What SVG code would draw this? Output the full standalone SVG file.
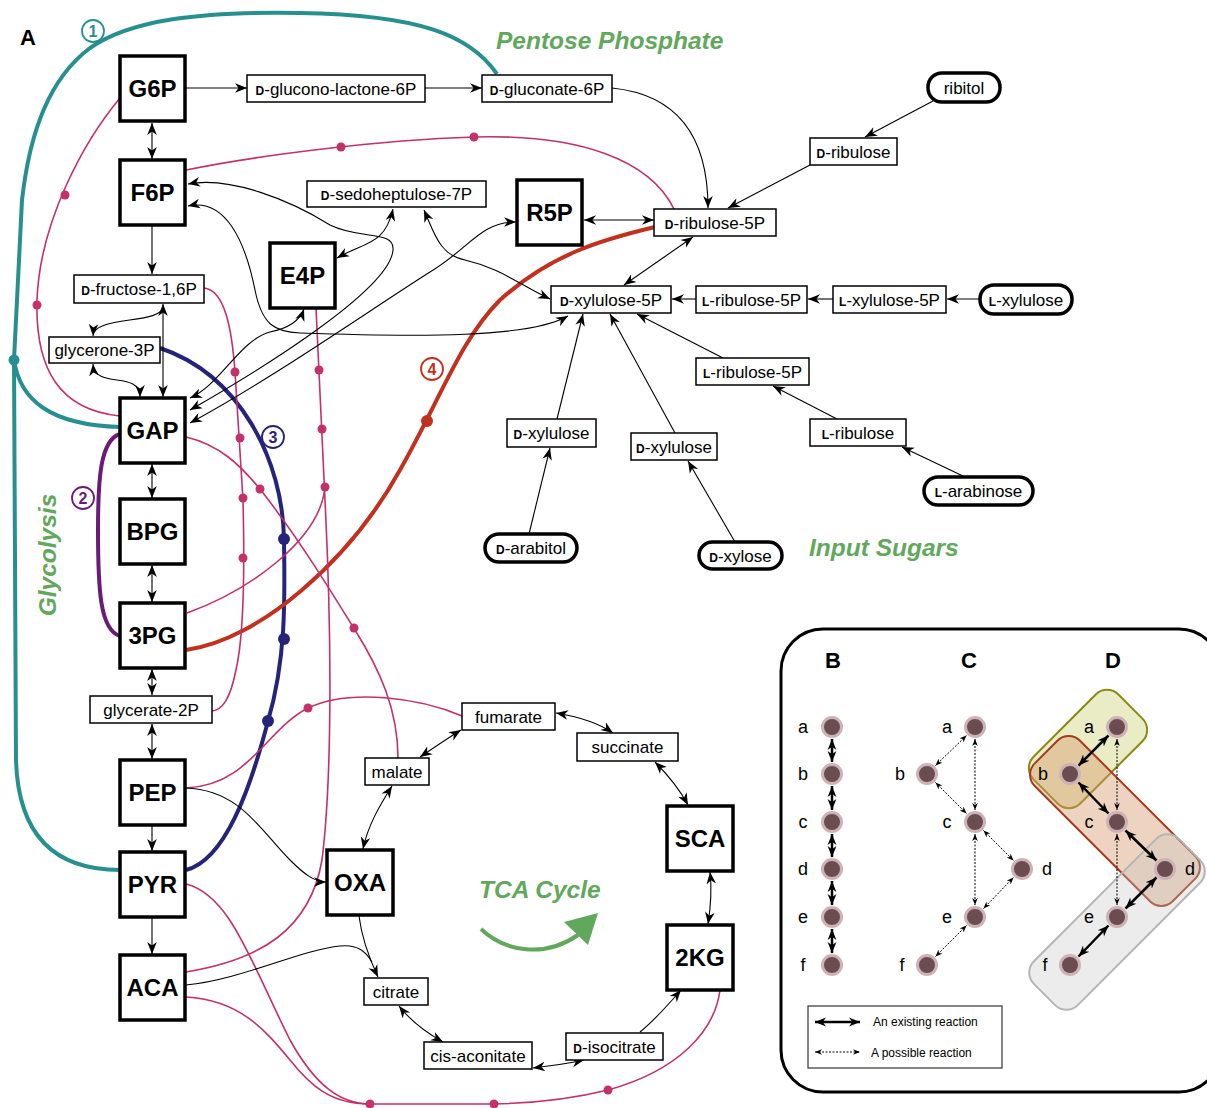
<svg xmlns="http://www.w3.org/2000/svg" width="1207" height="1108" viewBox="0 0 1207 1108">
<style>
text{font-family:"Liberation Sans",Arial,sans-serif;fill:#000}
.big rect{fill:#fff;stroke:#000;stroke-width:3.5}
.big text{font-size:24px;font-weight:bold;text-anchor:middle}
.sm rect{fill:#fff;stroke:#000;stroke-width:1.5}
.src rect{fill:#fff;stroke:#000;stroke-width:3.5}
.sm text,.src text{font-size:17px;text-anchor:middle}
.p{font-size:12px;font-weight:bold}
.ln{fill:none;stroke:#000;stroke-width:1.1}
.mg{fill:none;stroke:#c4306a;stroke-width:1.6}
.dot{fill:#c4306a}
.title{font-size:24.5px;font-weight:bold;font-style:italic;fill:#62a85c}
.lab{font-size:18px;text-anchor:middle}
.pn circle{fill:#6b4c50;stroke:#cdb3b6;stroke-width:3}
.thick{fill:none;stroke:#000;stroke-width:2.5}
.dotl{fill:none;stroke:#000;stroke-width:1;stroke-dasharray:2 1.5}
</style>
<defs>
<marker id="ah" viewBox="0 0 10 10" refX="10" refY="5" markerWidth="12" markerHeight="12" markerUnits="userSpaceOnUse" orient="auto-start-reverse"><path d="M0,1 L10,5 L0,9 L3,5 z" fill="#000"/></marker>
<marker id="ahb" viewBox="0 0 10 10" refX="10" refY="5" markerWidth="11" markerHeight="11" markerUnits="userSpaceOnUse" orient="auto-start-reverse"><path d="M0,1 L10,5 L0,9 L3,5 z" fill="#000"/></marker>
<marker id="ahs" viewBox="0 0 10 10" refX="10" refY="5" markerWidth="7" markerHeight="7" markerUnits="userSpaceOnUse" orient="auto-start-reverse"><path d="M0,1 L10,5 L0,9 L3,5 z" fill="#000"/></marker>
</defs>

<!-- labels -->
<text x="20" y="45" font-size="22" font-weight="bold">A</text>
<text class="title" x="496" y="49">Pentose Phosphate</text>
<text class="title" x="809" y="556">Input Sugars</text>
<text class="title" x="479" y="898">TCA Cycle</text>
<text class="title" transform="translate(56,555) rotate(-90)" text-anchor="middle">Glycolysis</text>
<path d="M 481,929 C 505,952 545,958 578,935" fill="none" stroke="#62a85c" stroke-width="4"/>
<polygon points="564,922 598,913 588,945" fill="#62a85c"/>

<!-- thick pathway curves -->
<g id="pathways">
<path d="M 497,74 C 470,35 420,15 300,13 C 200,11 130,20 90,48 C 50,78 30,130 22,200 L 14,360 L 16,760 C 18,830 50,870 120,870" fill="none" stroke="#27908f" stroke-width="4"/>
<path d="M 14,360 C 20,400 50,425 120,427" fill="none" stroke="#27908f" stroke-width="4"/>
<circle cx="14" cy="360" r="5.5" fill="#27908f"/>
<path d="M 120,434 C 100,440 98,480 98,530 C 98,590 100,630 120,636" fill="none" stroke="#6a1b78" stroke-width="4"/>
<path d="M 160,348 C 240,375 283,460 284,540 C 285,600 286,660 268,721 C 250,790 225,860 186,870" fill="none" stroke="#25237a" stroke-width="4"/>
<circle cx="284" cy="539" r="6" fill="#25237a"/>
<circle cx="284" cy="639" r="6" fill="#25237a"/>
<circle cx="268" cy="721" r="6" fill="#25237a"/>
<path d="M 186,650 C 260,640 350,560 400,470 C 440,400 460,340 500,300 C 550,255 600,240 655,227" fill="none" stroke="#c1311e" stroke-width="4"/>
<circle cx="427" cy="421" r="6" fill="#c1311e"/>
</g>

<!-- circled numbers -->
<g font-size="16" font-weight="bold" text-anchor="middle">
<circle cx="93" cy="31" r="11" fill="#fff" stroke="#27908f" stroke-width="1.8"/><text x="93" y="37" style="fill:#27908f">1</text>
<circle cx="83" cy="498" r="11" fill="#fff" stroke="#6a1b78" stroke-width="1.8"/><text x="83" y="504" style="fill:#6a1b78">2</text>
<circle cx="273" cy="437" r="11" fill="#fff" stroke="#25237a" stroke-width="1.8"/><text x="273" y="443" style="fill:#25237a">3</text>
<circle cx="432" cy="369" r="11" fill="#fff" stroke="#c1311e" stroke-width="1.8"/><text x="432" y="375" style="fill:#c1311e">4</text>
</g>

<!-- magenta lines -->
<g id="regulation">
<path class="mg" d="M 120,98 C 85,140 40,220 37,300 C 35,370 60,410 120,416"/>
<circle class="dot" cx="65" cy="195" r="4.5"/><circle class="dot" cx="37" cy="305" r="4.5"/>
<path class="mg" d="M 186,170 C 260,155 380,140 474,137 C 580,134 650,160 674,209"/>
<circle class="dot" cx="341" cy="147" r="4.5"/><circle class="dot" cx="474" cy="137" r="4.5"/>
<path class="mg" d="M 204,288 C 225,290 232,330 235,372 L 243,500 C 245,580 243,640 236,670 C 230,700 222,710 212,711"/>
<circle class="dot" cx="235" cy="372" r="4.5"/><circle class="dot" cx="240" cy="438" r="4.5"/><circle class="dot" cx="243" cy="498" r="4.5"/><circle class="dot" cx="243" cy="558" r="4.5"/>
<path class="mg" d="M 316,308 L 325,500 C 332,640 332,780 322,860 C 310,930 260,960 186,972"/>
<circle class="dot" cx="319" cy="370" r="4.5"/><circle class="dot" cx="322" cy="429" r="4.5"/><circle class="dot" cx="325" cy="487" r="4.5"/>
<path class="mg" d="M 187,613 C 250,590 320,540 325,487"/>
<path class="mg" d="M 186,437 C 220,445 240,465 260,489 C 300,540 330,590 355,630 C 380,670 398,710 398,758"/>
<circle class="dot" cx="260" cy="489" r="4.5"/><circle class="dot" cx="354" cy="628" r="4.5"/>
<path class="mg" d="M 186,788 C 250,785 265,730 308,708 C 350,688 420,698 462,716"/>
<circle class="dot" cx="308" cy="708" r="4.5"/>
<path class="mg" d="M 186,884 C 230,895 250,960 290,1040 C 315,1085 340,1104 370,1104 L 494,1104 C 540,1103 580,1097 608,1090 C 680,1070 715,1030 720,990"/>
<path class="mg" d="M 186,997 C 240,1000 265,1030 290,1060 C 310,1085 330,1104 370,1104"/>
<circle class="dot" cx="370" cy="1104" r="4.5"/><circle class="dot" cx="494" cy="1104" r="4.5"/><circle class="dot" cx="608" cy="1090" r="4.5"/>
</g>

<!-- black connectors -->
<g id="connectors" class="ln">
<path class="ln" d="M 186,88 L 247,88" marker-end="url(#ah)"/>
<path class="ln" d="M 425,88 L 482,88" marker-end="url(#ah)"/>
<path class="ln" d="M 612,88 C 680,95 708,140 708,208" marker-end="url(#ah)"/>
<path class="ln" d="M 152,123 L 152,159" marker-start="url(#ah)" marker-end="url(#ah)"/>
<path class="ln" d="M 152,226 L 152,274" marker-end="url(#ah)"/>
<path class="ln" d="M 163,304 L 163,397" marker-start="url(#ah)" marker-end="url(#ah)"/>
<path class="ln" d="M 163,306 C 163,325 94,315 93,336" marker-end="url(#ah)"/>
<path class="ln" d="M 93,364 C 95,390 140,370 140,397" marker-start="url(#ah)" marker-end="url(#ah)"/>
<path class="ln" d="M 152,464 L 152,498" marker-start="url(#ah)" marker-end="url(#ah)"/>
<path class="ln" d="M 152,565 L 152,602" marker-start="url(#ah)" marker-end="url(#ah)"/>
<path class="ln" d="M 152,669 L 152,695" marker-start="url(#ah)" marker-end="url(#ah)"/>
<path class="ln" d="M 152,724 L 152,759" marker-start="url(#ah)" marker-end="url(#ah)"/>
<path class="ln" d="M 152,826 L 152,851" marker-end="url(#ah)"/>
<path class="ln" d="M 152,918 L 152,954" marker-end="url(#ah)"/>
<path class="ln" d="M 186,788 C 240,790 260,830 290,860 C 305,875 315,882 326,882" marker-end="url(#ah)"/>
<path class="ln" d="M 359,916 C 362,940 370,960 378,977" marker-end="url(#ah)"/>
<path class="ln" d="M 186,985 C 240,980 300,950 340,946 C 358,944 366,952 372,962"/>
<path class="ln" d="M 392,786 C 380,805 368,825 363,849" marker-start="url(#ah)" marker-end="url(#ah)"/>
<path class="ln" d="M 420,757 C 435,747 448,738 461,730" marker-start="url(#ah)" marker-end="url(#ah)"/>
<path class="ln" d="M 556,713 C 580,717 600,724 613,733" marker-start="url(#ah)" marker-end="url(#ah)"/>
<path class="ln" d="M 655,762 C 668,775 680,790 688,805" marker-start="url(#ah)" marker-end="url(#ah)"/>
<path class="ln" d="M 710,872 C 712,890 711,905 708,924" marker-start="url(#ah)" marker-end="url(#ah)"/>
<path class="ln" d="M 640,1032 C 655,1020 668,1005 681,990" marker-end="url(#ah)"/>
<path class="ln" d="M 584,1060 C 566,1064 550,1066 533,1068" marker-start="url(#ah)" marker-end="url(#ah)"/>
<path class="ln" d="M 443,1042 C 425,1032 410,1020 399,1006" marker-start="url(#ah)" marker-end="url(#ah)"/>
<path class="ln" d="M 933,101 L 865,137" marker-end="url(#ah)"/>
<path class="ln" d="M 810,165 L 728,208" marker-end="url(#ah)"/>
<path class="ln" d="M 584,220 L 654,220" marker-start="url(#ah)" marker-end="url(#ah)"/>
<path class="ln" d="M 693,237 L 624,285" marker-start="url(#ah)" marker-end="url(#ah)"/>
<path class="ln" d="M 696,299 L 672,299" marker-end="url(#ah)"/>
<path class="ln" d="M 833,299 L 808,299" marker-end="url(#ah)"/>
<path class="ln" d="M 980,299 L 947,299" marker-end="url(#ah)"/>
<path class="ln" d="M 723,358 L 637,314" marker-end="url(#ah)"/>
<path class="ln" d="M 837,419 L 773,386" marker-end="url(#ah)"/>
<path class="ln" d="M 965,477 L 902,447" marker-end="url(#ah)"/>
<path class="ln" d="M 557,419 L 583,314" marker-end="url(#ah)"/>
<path class="ln" d="M 675,433 L 610,314" marker-end="url(#ah)"/>
<path class="ln" d="M 529,534 L 550,448" marker-end="url(#ah)"/>
<path class="ln" d="M 735,542 L 688,461" marker-end="url(#ah)"/>
<path class="ln" d="M 188,184 C 230,176 290,200 330,225 C 360,240 395,230 393,250 C 390,290 260,370 190,410" marker-start="url(#ah)" marker-end="url(#ah)"/>
<path class="ln" d="M 337,258 C 365,242 385,245 393,209" marker-start="url(#ah)" marker-end="url(#ah)"/>
<path class="ln" d="M 188,206 C 225,198 245,240 255,290 C 262,325 275,332 300,333 C 420,337 530,338 568,316" marker-start="url(#ah)" marker-end="url(#ah)"/>
<path class="ln" d="M 190,398 C 220,385 240,340 270,332 C 290,328 300,320 304,309" marker-start="url(#ah)" marker-end="url(#ah)"/>
<path class="ln" d="M 190,423 C 270,380 370,310 430,272 C 470,248 480,222 516,222" marker-start="url(#ah)" marker-end="url(#ah)"/>
<path class="ln" d="M 424,210 C 435,235 440,255 465,260 C 500,268 520,285 550,299" marker-start="url(#ah)" marker-end="url(#ah)"/>
</g>

<!-- big nodes -->
<g id="G6P" class="big"><rect x="120" y="56" width="65" height="65"/><text x="152.5" y="97">G6P</text></g>
<g id="F6P" class="big"><rect x="120" y="160" width="65" height="65"/><text x="152.5" y="201">F6P</text></g>
<g id="GAP" class="big"><rect x="120" y="398" width="65" height="65"/><text x="152.5" y="439">GAP</text></g>
<g id="BPG" class="big"><rect x="120" y="499" width="65" height="65"/><text x="152.5" y="540">BPG</text></g>
<g id="3PG" class="big"><rect x="120" y="603" width="65" height="65"/><text x="152.5" y="644">3PG</text></g>
<g id="PEP" class="big"><rect x="120" y="760" width="65" height="65"/><text x="152.5" y="801">PEP</text></g>
<g id="PYR" class="big"><rect x="120" y="852" width="65" height="65"/><text x="152.5" y="893">PYR</text></g>
<g id="ACA" class="big"><rect x="120" y="955" width="65" height="65"/><text x="152.5" y="996">ACA</text></g>
<g id="E4P" class="big"><rect x="270" y="243" width="65" height="65"/><text x="302.5" y="284">E4P</text></g>
<g id="R5P" class="big"><rect x="517" y="180" width="65" height="65"/><text x="549.5" y="221">R5P</text></g>
<g id="OXA" class="big"><rect x="327" y="850" width="66" height="65"/><text x="360" y="891">OXA</text></g>
<g id="SCA" class="big"><rect x="667" y="806" width="66" height="65"/><text x="700" y="847">SCA</text></g>
<g id="2KG" class="big"><rect x="667" y="925" width="66" height="65"/><text x="700" y="966">2KG</text></g>

<!-- small nodes -->
<g id="gluconolactone" class="sm"><rect x="247" y="75" width="178" height="27"/><text x="336" y="94.5"><tspan class="p">D</tspan>-glucono-lactone-6P</text></g>
<g id="gluconate" class="sm"><rect x="482" y="75" width="130" height="27"/><text x="547" y="94.5"><tspan class="p">D</tspan>-gluconate-6P</text></g>
<g id="sedoheptulose" class="sm"><rect x="307" y="181" width="179" height="26"/><text x="396.5" y="200"><tspan class="p">D</tspan>-sedoheptulose-7P</text></g>
<g id="Dribulose5P" class="sm"><rect x="654" y="209" width="122" height="27"/><text x="715" y="228.5"><tspan class="p">D</tspan>-ribulose-5P</text></g>
<g id="Dxylulose5P" class="sm"><rect x="551" y="286" width="120" height="27"/><text x="611" y="305.5"><tspan class="p">D</tspan>-xylulose-5P</text></g>
<g id="Lribulose5P" class="sm"><rect x="696" y="286" width="111" height="27"/><text x="751.5" y="305.5"><tspan class="p">L</tspan>-ribulose-5P</text></g>
<g id="Lxylulose5P" class="sm"><rect x="833" y="286" width="113" height="27"/><text x="889.5" y="305.5"><tspan class="p">L</tspan>-xylulose-5P</text></g>
<g id="Lxylulose" class="src"><rect x="980" y="285" width="92" height="29" rx="14"/><text x="1026" y="305.5"><tspan class="p">L</tspan>-xylulose</text></g>
<g id="ribitol" class="src"><rect x="928" y="73" width="72" height="29" rx="14"/><text x="964" y="93.5">ribitol</text></g>
<g id="Dribulose" class="sm"><rect x="810" y="138" width="87" height="27"/><text x="853.5" y="157.5"><tspan class="p">D</tspan>-ribulose</text></g>
<g id="Lribulose5P2" class="sm"><rect x="696" y="358" width="113" height="27"/><text x="752.5" y="377.5"><tspan class="p">L</tspan>-ribulose-5P</text></g>
<g id="Lribulose" class="sm"><rect x="810" y="419" width="96" height="27"/><text x="858" y="438.5"><tspan class="p">L</tspan>-ribulose</text></g>
<g id="Larabinose" class="src"><rect x="924" y="477" width="109" height="28" rx="14"/><text x="978.5" y="497"><tspan class="p">L</tspan>-arabinose</text></g>
<g id="Dxylulose1" class="sm"><rect x="507" y="419" width="89" height="28"/><text x="551.5" y="439"><tspan class="p">D</tspan>-xylulose</text></g>
<g id="Dxylulose2" class="sm"><rect x="631" y="433" width="86" height="27"/><text x="674" y="452.5"><tspan class="p">D</tspan>-xylulose</text></g>
<g id="Darabitol" class="src"><rect x="485" y="534" width="92" height="28" rx="14"/><text x="531" y="554"><tspan class="p">D</tspan>-arabitol</text></g>
<g id="Dxylose" class="src"><rect x="699" y="542" width="83" height="27" rx="13.5"/><text x="740.5" y="561.5"><tspan class="p">D</tspan>-xylose</text></g>
<g id="fructose16P" class="sm"><rect x="74" y="275" width="130" height="28"/><text x="139" y="295"><tspan class="p">D</tspan>-fructose-1,6P</text></g>
<g id="glycerone3P" class="sm"><rect x="49" y="337" width="111" height="26"/><text x="104.5" y="356">glycerone-3P</text></g>
<g id="glycerate2P" class="sm"><rect x="90" y="696" width="122" height="27"/><text x="151" y="715.5">glycerate-2P</text></g>
<g id="malate" class="sm"><rect x="365" y="758" width="64" height="27"/><text x="397" y="777.5">malate</text></g>
<g id="fumarate" class="sm"><rect x="462" y="703" width="93" height="27"/><text x="508.5" y="722.5">fumarate</text></g>
<g id="succinate" class="sm"><rect x="577" y="733" width="101" height="28"/><text x="627.5" y="753">succinate</text></g>
<g id="citrate" class="sm"><rect x="364" y="978" width="64" height="27"/><text x="396" y="997.5">citrate</text></g>
<g id="cisaconitate" class="sm"><rect x="424" y="1042" width="108" height="27"/><text x="478" y="1061.5">cis-aconitate</text></g>
<g id="isocitrate" class="sm"><rect x="566" y="1033" width="97" height="27"/><text x="614.5" y="1052.5"><tspan class="p">D</tspan>-isocitrate</text></g>

<!-- panel B C D -->
<g id="panelBCD">
<rect x="781" y="629" width="440" height="463" rx="42" fill="none" stroke="#000" stroke-width="3"/>
<g font-size="22" font-weight="bold" text-anchor="middle">
<text x="833" y="668">B</text><text x="969" y="668">C</text><text x="1113" y="668">D</text>
</g>
<rect x="1028" y="716" width="120" height="66" rx="16" transform="rotate(-45 1088 749)" fill="#c8cc66" fill-opacity="0.38" stroke="#8c8a12" stroke-width="2"/>
<rect x="1017.5" y="789" width="195" height="64" rx="16" transform="rotate(45 1115 821)" fill="#d4956a" fill-opacity="0.42" stroke="#a63a1e" stroke-width="2"/>
<rect x="1014.5" y="891" width="205" height="62" rx="16" transform="rotate(-45 1117 922)" fill="#c4c4c4" fill-opacity="0.32" stroke="#b5b5b5" stroke-width="2"/>
<g class="lab">
<text x="803" y="733">a</text><text x="803" y="780">b</text><text x="803" y="828">c</text><text x="803" y="875">d</text><text x="803" y="923">e</text><text x="803" y="971">f</text>
<text x="947" y="733">a</text><text x="900" y="780">b</text><text x="947" y="828">c</text><text x="1047" y="875">d</text><text x="947" y="923">e</text><text x="902" y="971">f</text>
<text x="1089" y="733">a</text><text x="1043" y="780">b</text><text x="1089" y="828">c</text><text x="1190" y="875">d</text><text x="1089" y="923">e</text><text x="1045" y="971">f</text>
</g>
<g>
<path class="thick" d="M 832,739 L 832,762" marker-start="url(#ahb)" marker-end="url(#ahb)"/>
<path class="thick" d="M 832,786 L 832,810" marker-start="url(#ahb)" marker-end="url(#ahb)"/>
<path class="thick" d="M 832,834 L 832,857" marker-start="url(#ahb)" marker-end="url(#ahb)"/>
<path class="thick" d="M 832,881 L 832,905" marker-start="url(#ahb)" marker-end="url(#ahb)"/>
<path class="thick" d="M 832,929 L 832,953" marker-start="url(#ahb)" marker-end="url(#ahb)"/>
<path class="dotl" d="M 966.5,735.5 L 935.5,765.5" marker-start="url(#ahs)" marker-end="url(#ahs)"/>
<path class="dotl" d="M 975,739 L 975,810" marker-start="url(#ahs)" marker-end="url(#ahs)"/>
<path class="dotl" d="M 935.5,782.5 L 966.5,813.5" marker-start="url(#ahs)" marker-end="url(#ahs)"/>
<path class="dotl" d="M 983.5,830.5 L 1013.5,860.5" marker-start="url(#ahs)" marker-end="url(#ahs)"/>
<path class="dotl" d="M 975,834 L 975,905" marker-start="url(#ahs)" marker-end="url(#ahs)"/>
<path class="dotl" d="M 1013.5,877.5 L 983.5,908.5" marker-start="url(#ahs)" marker-end="url(#ahs)"/>
<path class="dotl" d="M 966.5,925.5 L 935.5,956.5" marker-start="url(#ahs)" marker-end="url(#ahs)"/>
<path class="thick" d="M 1108.5,735.5 L 1078.5,765.5" marker-start="url(#ahb)" marker-end="url(#ahb)"/>
<path class="thick" d="M 1078.5,782.5 L 1108.5,813.5" marker-start="url(#ahb)" marker-end="url(#ahb)"/>
<path class="thick" d="M 1125.5,830.5 L 1156.5,860.5" marker-start="url(#ahb)" marker-end="url(#ahb)"/>
<path class="thick" d="M 1156.5,877.5 L 1125.5,908.5" marker-start="url(#ahb)" marker-end="url(#ahb)"/>
<path class="thick" d="M 1108.5,925.5 L 1078.5,956.5" marker-start="url(#ahb)" marker-end="url(#ahb)"/>
<path class="dotl" d="M 1117,739 L 1117,810" marker-start="url(#ahs)" marker-end="url(#ahs)"/>
<path class="dotl" d="M 1117,834 L 1117,905" marker-start="url(#ahs)" marker-end="url(#ahs)"/>
</g>
<g class="pn">
<circle cx="832" cy="727" r="9.5"/><circle cx="832" cy="774" r="9.5"/><circle cx="832" cy="822" r="9.5"/><circle cx="832" cy="869" r="9.5"/><circle cx="832" cy="917" r="9.5"/><circle cx="832" cy="965" r="9.5"/>
<circle cx="975" cy="727" r="9.5"/><circle cx="927" cy="774" r="9.5"/><circle cx="975" cy="822" r="9.5"/><circle cx="1022" cy="869" r="9.5"/><circle cx="975" cy="917" r="9.5"/><circle cx="927" cy="965" r="9.5"/>
<circle cx="1117" cy="727" r="9.5"/><circle cx="1070" cy="774" r="9.5"/><circle cx="1117" cy="822" r="9.5"/><circle cx="1165" cy="869" r="9.5"/><circle cx="1117" cy="917" r="9.5"/><circle cx="1070" cy="965" r="9.5"/>
</g>
<rect x="808" y="1006" width="194" height="62" fill="#fff" stroke="#333" stroke-width="1.2"/>
<path class="thick" d="M 815,1022 L 860,1022" marker-start="url(#ahb)" marker-end="url(#ahb)"/>
<path class="dotl" d="M 815,1052 L 860,1052" marker-start="url(#ahs)" marker-end="url(#ahs)"/>
<text x="873" y="1026" font-size="12">An existing reaction</text>
<text x="871" y="1057" font-size="12">A possible reaction</text>
</g>
</svg>
